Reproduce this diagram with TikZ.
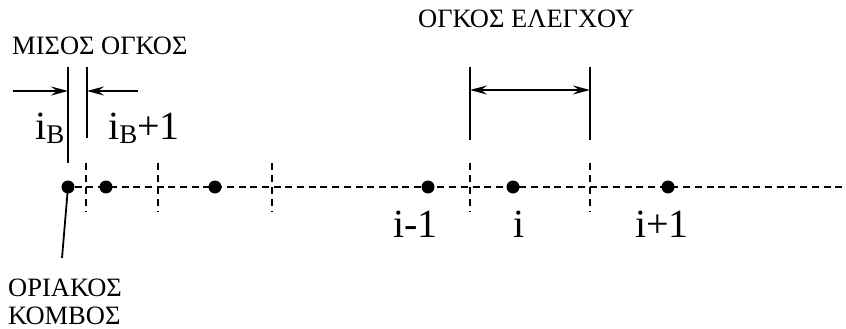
\documentclass[tikz,border=0pt]{standalone}
\usepackage{fontspec}
\setmainfont{Liberation Serif}
\usetikzlibrary{arrows.meta}
\begin{document}
\begin{tikzpicture}[x=1pt,y=-1pt,
  dotnode/.style={circle,fill=black,inner sep=0pt,minimum size=13pt},
  axisline/.style={line width=1.6pt,dash pattern=on 7pt off 4.7pt},
  tick/.style={line width=1.6pt,dash pattern=on 7pt off 5pt},
  solidline/.style={line width=1.8pt},
  arr/.style={line width=1.9pt,-{Stealth[length=17pt,width=9pt,inset=6pt]}},
  darr/.style={line width=1.9pt,{Stealth[length=17pt,width=9pt,inset=6pt]}-{Stealth[length=17pt,width=9pt,inset=6pt]}},
  grk/.style={anchor=base west,inner sep=0pt,font=\fontsize{26.5}{30}\selectfont},
  idx/.style={anchor=base west,inner sep=0pt,font=\fontsize{40}{44}\selectfont}]
\useasboundingbox (0,0) rectangle (846,329);
\newcommand{\subB}{\raisebox{-5pt}{\fontsize{27}{27}\selectfont B}}
% dots
\node[dotnode] (b0) at (68,187) {};
\node[dotnode] (b1) at (106,187) {};
\node[dotnode] (b2) at (215,187) {};
\node[dotnode] (im) at (428,187) {};
\node[dotnode] (ic) at (513,187) {};
\node[dotnode] (ip) at (668,187) {};
\coordinate (axend) at (846,187);
% axis
\draw[axisline] (b0) -- (axend);
% dashed ticks
\foreach \x/\n in {86/t1,158/t2,272/t3,470/t4,590/t5}{
  \coordinate (\n a) at (\x,163);
  \coordinate (\n b) at (\x,212);
  \draw[tick] (\n a) -- (\n b);
}
% half volume lines
\coordinate (h1t) at (68,67); \coordinate (h1b) at (68,163);
\coordinate (h2t) at (87,67); \coordinate (h2b) at (87,138);
\draw[solidline] (h1t) -- (h1b);
\draw[solidline] (h2t) -- (h2b);
\coordinate (ha1) at (13,91); \coordinate (ha1e) at (68,91);
\coordinate (ha2) at (138,91); \coordinate (ha2e) at (87,91);
\draw[arr] (ha1) -- (ha1e);
\draw[arr] (ha2) -- (ha2e);
% control volume
\coordinate (c1t) at (470,67); \coordinate (c1b) at (470,140);
\coordinate (c2t) at (590,67); \coordinate (c2b) at (590,140);
\draw[solidline] (c1t) -- (c1b);
\draw[solidline] (c2t) -- (c2b);
\coordinate (ca1) at (470,90); \coordinate (ca2) at (590,90);
\draw[darr] (ca1) -- (ca2);
% leader to boundary node
\coordinate (lead) at (62,258);
\draw[solidline] (b0.center) -- (lead);
% labels
\node[grk] (misos) at (12,55) {ΜΙΣΟΣ ΟΓΚΟΣ};
\node[grk] (cv) at (418,28) {ΟΓΚΟΣ ΕΛΕΓΧΟΥ};
\node[grk] (or1) at (8,296) {ΟΡΙΑΚΟΣ};
\node[grk] (or2) at (8,324) {ΚΟΜΒΟΣ};
\node[idx] (lB) at (35,139) {i\subB};
\node[idx] (lB1) at (108,139) {i\subB+1};
\node[idx] (lim) at (393,237) {i-1};
\node[idx] (lic) at (513,237) {i};
\node[idx] (lip) at (635,237) {i+1};
\end{tikzpicture}
\end{document}
